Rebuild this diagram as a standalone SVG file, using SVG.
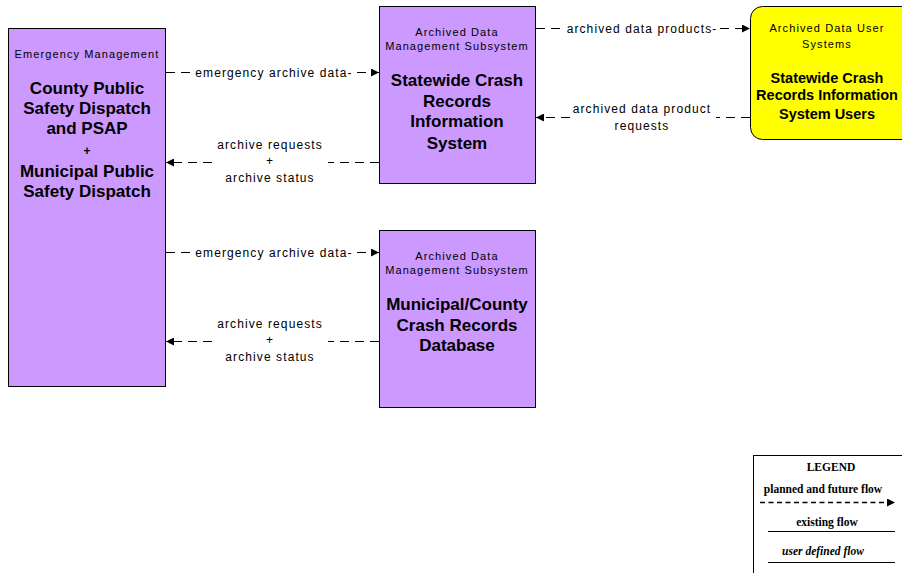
<svg xmlns="http://www.w3.org/2000/svg" width="902" height="573" viewBox="0 0 902 573">
<defs>
<style>
.box{fill:#cc99ff;stroke:#000;stroke-width:1}
.ybox{fill:#ffff00;stroke:#000;stroke-width:1}
.sub{font-family:"Liberation Sans",Arial,sans-serif;font-size:11px;letter-spacing:1.1px;fill:#000;text-anchor:middle}
.ttl{font-family:"Liberation Sans",Arial,sans-serif;font-size:17px;font-weight:bold;fill:#000;text-anchor:middle}
.ttly{font-family:"Liberation Sans",Arial,sans-serif;font-size:14.5px;font-weight:bold;fill:#000;text-anchor:middle}
.lbl{font-family:"Liberation Sans",Arial,sans-serif;font-size:12px;letter-spacing:1.1px;fill:#000;text-anchor:middle}
.dash{stroke:#000;stroke-width:1;stroke-dasharray:9 6;fill:none}
.leg{font-family:"Liberation Serif","Times New Roman",serif;font-size:11.5px;font-weight:bold;fill:#000;text-anchor:middle}
</style>
<marker id="ah" viewBox="0 0 10 10" refX="10" refY="5" markerWidth="8" markerHeight="8" markerUnits="userSpaceOnUse" orient="auto">
<path d="M0,0 L10,5 L0,10 Z" fill="#000"/>
</marker>
</defs>
<rect width="902" height="573" fill="#fff"/>

<g id="connectors">
<g id="c1">
<line class="dash" x1="166" y1="72.5" x2="190" y2="72.5"/>
<line class="dash" x1="357" y1="72.5" x2="379" y2="72.5" marker-end="url(#ah)"/>
<text class="lbl" x="274" y="76.5">emergency archive data-</text>
</g>
<g id="c2">
<line class="dash" x1="379" y1="162.5" x2="328" y2="162.5"/>
<line class="dash" x1="212" y1="162.5" x2="166" y2="162.5" marker-end="url(#ah)"/>
<text class="lbl" x="270" y="149">archive requests</text>
<text class="lbl" x="270" y="165">+</text>
<text class="lbl" x="270" y="182">archive status</text>
</g>
<g id="c3">
<line class="dash" x1="536" y1="28.5" x2="562" y2="28.5"/>
<line class="dash" x1="720" y1="28.5" x2="750" y2="28.5" marker-end="url(#ah)"/>
<text class="lbl" x="642" y="32.5">archived data products-</text>
</g>
<g id="c4">
<line class="dash" x1="750" y1="117.5" x2="716" y2="117.5"/>
<line class="dash" x1="570" y1="117.5" x2="536" y2="117.5" marker-end="url(#ah)"/>
<text class="lbl" x="642" y="113">archived data product</text>
<text class="lbl" x="642" y="130">requests</text>
</g>
<g id="c5">
<line class="dash" x1="166" y1="252.5" x2="190" y2="252.5"/>
<line class="dash" x1="357" y1="252.5" x2="379" y2="252.5" marker-end="url(#ah)"/>
<text class="lbl" x="274" y="256.5">emergency archive data-</text>
</g>
<g id="c6">
<line class="dash" x1="379" y1="341.5" x2="328" y2="341.5"/>
<line class="dash" x1="212" y1="341.5" x2="166" y2="341.5" marker-end="url(#ah)"/>
<text class="lbl" x="270" y="328">archive requests</text>
<text class="lbl" x="270" y="344">+</text>
<text class="lbl" x="270" y="361">archive status</text>
</g>
</g>

<g id="n-emergency">
<rect class="box" x="8.5" y="28.5" width="157" height="358"/>
<text class="sub" x="87" y="58">Emergency Management</text>
<text class="ttl" x="87" y="94">County Public</text>
<text class="ttl" x="87" y="114">Safety Dispatch</text>
<text class="ttl" x="87" y="134">and PSAP</text>
<text class="ttl" x="87" y="155" style="font-size:12px">+</text>
<text class="ttl" x="87" y="177">Municipal Public</text>
<text class="ttl" x="87" y="197">Safety Dispatch</text>
</g>

<g id="n-statewide">
<rect class="box" x="379.5" y="6.5" width="156" height="177"/>
<text class="sub" x="457" y="36">Archived Data</text>
<text class="sub" x="457" y="50">Management Subsystem</text>
<text class="ttl" x="457" y="86">Statewide Crash</text>
<text class="ttl" x="457" y="107">Records</text>
<text class="ttl" x="457" y="127">Information</text>
<text class="ttl" x="457" y="149">System</text>
</g>

<g id="n-users">
<rect class="ybox" x="750.5" y="6.5" width="165" height="133" rx="12" ry="12"/>
<text class="sub" x="827" y="32">Archived Data User</text>
<text class="sub" x="827" y="48">Systems</text>
<text class="ttly" x="827" y="83">Statewide Crash</text>
<text class="ttly" x="827" y="100">Records Information</text>
<text class="ttly" x="827" y="119">System Users</text>
</g>

<g id="n-municipal">
<rect class="box" x="379.5" y="230.5" width="156" height="177"/>
<text class="sub" x="457" y="260">Archived Data</text>
<text class="sub" x="457" y="274">Management Subsystem</text>
<text class="ttl" x="457" y="310">Municipal/County</text>
<text class="ttl" x="457" y="331">Crash Records</text>
<text class="ttl" x="457" y="351">Database</text>
</g>

<g id="legend">
<rect x="753.5" y="455.5" width="160" height="130" fill="#fff" stroke="#000" stroke-width="1"/>
<text class="leg" x="831" y="471">LEGEND</text>
<text class="leg" x="823" y="493">planned and future flow</text>
<line x1="760" y1="502.5" x2="895" y2="502.5" stroke="#000" stroke-width="1.5" stroke-dasharray="5 3.5" marker-end="url(#ah)"/>
<text class="leg" x="827" y="526">existing flow</text>
<line x1="768" y1="531.5" x2="895" y2="531.5" stroke="#000" stroke-width="1"/>
<text class="leg" x="823" y="555" style="font-style:italic">user defined flow</text>
<line x1="768" y1="562.5" x2="895" y2="562.5" stroke="#000" stroke-width="1"/>
</g>
</svg>
